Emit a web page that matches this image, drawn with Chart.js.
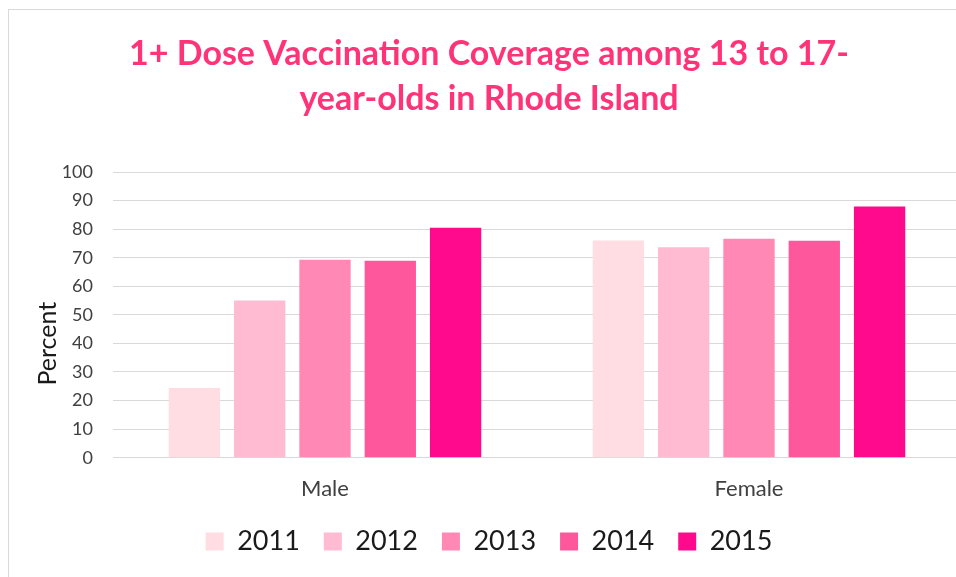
<!DOCTYPE html>
<html>
<head>
<meta charset="utf-8">
<title>1+ Dose Vaccination Coverage, Rhode Island</title>
<script src="https://cdn.jsdelivr.net/npm/chart.js@4.4.1/dist/chart.umd.min.js"></script>
<style>
  html, body { margin: 0; background: #fff; overflow: hidden; }
  #frame { position: absolute; left: 8px; top: 9px; width: 960px; height: 600px; border: 1px solid #d9d9d9; }
</style>
</head>
<body>
<div id="frame"><canvas id="chart" width="960" height="600"></canvas></div>
<script>
// Percent of 13-17 year-olds with at least one dose, by sex and survey year.
const groups = ["Male", "Female"];
const years = ["2011", "2012", "2013", "2014", "2015"];
const pct2011 = [24.4, 76.0];
const pct2012 = [55.0, 73.7];
const pct2013 = [69.3, 76.6];
const pct2014 = [68.9, 75.9];
const pct2015 = [80.5, 87.9];
const yearColors = ["#ffdde2", "#ffbbd2", "#ff88b5", "#ff579b", "#ff0a8c"];

const FONT = 'Lato, "Open Sans", sans-serif';
const GRID = "#d9d9d9";

const series = [pct2011, pct2012, pct2013, pct2014, pct2015];

new Chart(document.getElementById("chart"), {
  type: "bar",
  data: {
    labels: groups,
    datasets: years.map((y, i) => ({
      label: y,
      data: series[i],
      backgroundColor: yearColors[i],
      borderWidth: 0,
      categoryPercentage: 0.77,
      barPercentage: 0.786,
    })),
  },
  options: {
    responsive: false,
    animation: false,
    layout: { padding: { left: 8, right: 8, top: 0, bottom: 45 } },
    plugins: {
      title: {
        display: true,
        text: ["1+ Dose Vaccination Coverage among 13 to 17-", "year-olds in Rhode Island"],
        color: "#ff3377",
        font: { family: FONT, size: 34, weight: "bold", lineHeight: 45 / 34 },
        padding: { top: 22, bottom: 50 },
      },
      legend: {
        position: "bottom",
        labels: {
          color: "#1a1a1a",
          font: { family: FONT, size: 27 },
          boxWidth: 18,
          boxHeight: 18,
          padding: 24,
        },
      },
      tooltip: { enabled: false },
    },
    scales: {
      x: {
        grid: { display: false, drawTicks: false },
        border: { display: false },
        ticks: { color: "#404040", font: { family: FONT, size: 22 }, padding: 18 },
        afterFit: scale => { scale.height = 46.3; },
      },
      y: {
        min: 0,
        max: 100,
        ticks: { stepSize: 10, color: "#404040", font: { family: FONT, size: 18 }, padding: 20 },
        grid: { color: GRID, lineWidth: 1, drawTicks: false },
        border: { display: false },
        title: {
          display: true,
          // trailing spaces nudge the rotated label down, as in the original
          text: "Percent         ",
          color: "#1a1a1a",
          font: { family: FONT, size: 25 },
          padding: { top: 16, bottom: 0 },
        },
        afterFit: scale => { scale.width = 96; },
      },
    },
  },
});
</script>
</body>
</html>
